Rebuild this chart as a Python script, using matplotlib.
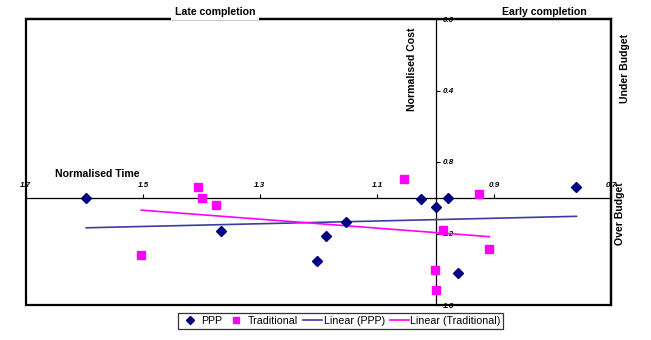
import matplotlib.pyplot as plt
import numpy as np
from matplotlib.patches import Rectangle

plt.rcParams['font.family'] = ['Liberation Sans', 'DejaVu Sans']

# normalised time (x) and normalised cost (y)
ppp_time = [1.597, 1.367, 1.203, 1.187, 1.153, 1.024, 1.000, 0.979, 0.961, 0.759]
ppp_cost = [1.003, 1.186, 1.352, 1.216, 1.136, 1.009, 1.050, 1.003, 1.421, 0.942]
trad_time = [1.503, 1.406, 1.399, 1.376, 1.054, 0.987, 0.925, 0.908, 1.001, 1.000]
trad_cost = [1.320, 0.938, 1.003, 1.041, 0.895, 1.180, 0.979, 1.285, 1.402, 1.516]

x_ticks = [1.7, 1.5, 1.3, 1.1, 0.9, 0.7]
y_ticks = [0.0, 0.4, 0.8, 1.2, 1.6]

fig = plt.figure(figsize=(6.51, 3.40), dpi=100)
ax = fig.add_axes([26/651, 1-305/340, 585/651, 286/340])

ppp_col = '#000080'
trad_col = '#FF00FF'

ax.plot(ppp_time, ppp_cost, 'D', color=ppp_col, markersize=5.5, label='PPP', zorder=4)
ax.plot(trad_time, trad_cost, 's', color=trad_col, markersize=5.2, label='Traditional', zorder=4)

# linear trendlines (least squares, like the spreadsheet)
a, b = np.polyfit(ppp_time, ppp_cost, 1)
xs = np.array([min(ppp_time), max(ppp_time)])
ax.plot(xs, a*xs + b, color='#3C3CA0', lw=1.2, label='Linear (PPP)', zorder=3)
a, b = np.polyfit(trad_time, trad_cost, 1)
xs = np.array([min(trad_time), max(trad_time)])
ax.plot(xs, a*xs + b, color=trad_col, lw=1.2, label='Linear (Traditional)', zorder=3)

ax.set_xlim(1.7, 0.7)
ax.set_ylim(1.6, 0.0)

# axes cross at (1, 1)
ax.spines['left'].set_position(('data', 1.0))
ax.spines['bottom'].set_position(('data', 1.0))
for s in ['left', 'bottom']:
	ax.spines[s].set_linewidth(0.9)
for s in ['top', 'right']:
	ax.spines[s].set_linewidth(1.6)
ax.add_patch(Rectangle((0, 0), 1, 1, transform=ax.transAxes, fill=False,
	lw=1.6, edgecolor='black', clip_on=False, zorder=5))

ax.set_xticks(x_ticks)
ax.set_xticklabels([f'{v:.1f}' for v in x_ticks])
ax.set_yticks(y_ticks)
ax.set_yticklabels([f'{v:.1f}' for v in y_ticks])
ax.tick_params(axis='x', direction='in', length=3, width=0.8, pad=-6, labelsize=5.8)
ax.tick_params(axis='y', direction='in', length=3, width=0.8, pad=-5.5, labelsize=5.8)
for lab in ax.get_xticklabels():
	lab.set_verticalalignment('bottom')
	lab.set_fontweight('bold')
	lab.set_fontstyle('italic')
for lab in ax.get_yticklabels():
	lab.set_horizontalalignment('left')
	lab.set_fontweight('bold')
	lab.set_fontstyle('italic')

def px(x, y):
	return (x/651, 1 - y/340)

fs = 7.6
fig.text(*px(55, 174), 'Normalised Time', fontsize=fs, fontweight='bold', ha='left', va='center')
fig.text(*px(412, 69), 'Normalised Cost', fontsize=fs, fontweight='bold', rotation=90,
	ha='center', va='center')
fig.text(*px(215, 12), 'Late completion', fontsize=fs, fontweight='bold', ha='center', va='center',
	bbox=dict(facecolor='white', edgecolor='none', pad=2.5), zorder=10)
fig.text(*px(544, 12), 'Early completion', fontsize=fs, fontweight='bold', ha='center', va='center')
fig.text(*px(625, 68), 'Under Budget', fontsize=fs, fontweight='bold', rotation=90,
	ha='center', va='center')
fig.text(*px(620, 214), 'Over Budget', fontsize=fs, fontweight='bold', rotation=90,
	ha='center', va='center', zorder=10)

leg = fig.legend(loc='center', bbox_to_anchor=px(340.5, 321), ncol=4, fontsize=7.7,
	frameon=True, fancybox=False, edgecolor='black', handlelength=1.8, handletextpad=0.15,
	columnspacing=0.45, borderpad=0.25, borderaxespad=0, markerscale=0.7)
leg.get_frame().set_linewidth(0.9)

plt.savefig('out.png', dpi=100)
